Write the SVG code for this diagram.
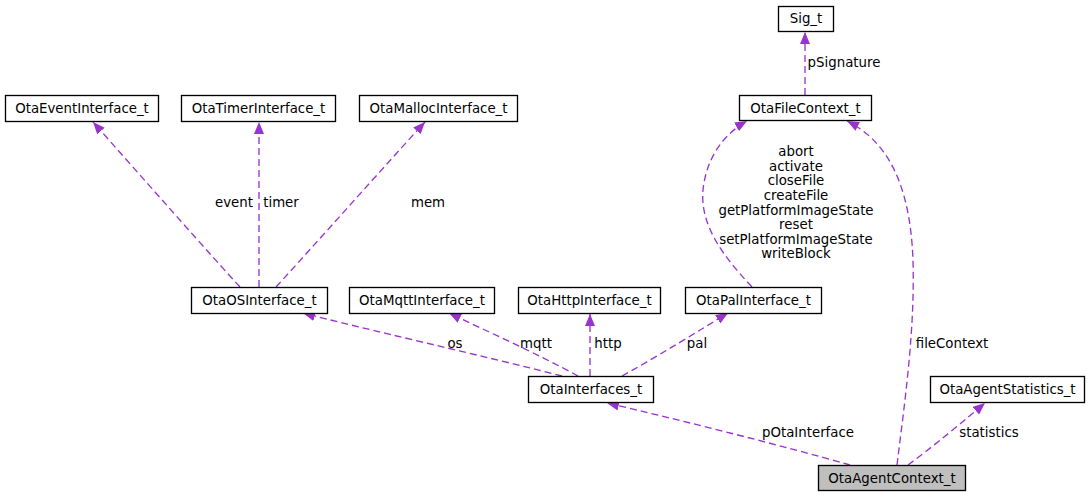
<svg xmlns="http://www.w3.org/2000/svg" width="1089" height="497" viewBox="0 0 1089 497">
<style>
.n rect{fill:#ffffff;stroke:#000000;stroke-width:1.33}
.n text,.l{font-family:"DejaVu Sans",sans-serif;font-size:13.33px;fill:#000000;text-anchor:middle}
.e path{fill:none;stroke:#9a32cd;stroke-width:1.33;stroke-dasharray:7,4}
</style>
<defs>
<marker id="ah" viewBox="0 0 12 10" refX="12" refY="5" markerUnits="userSpaceOnUse" markerWidth="12" markerHeight="10" orient="auto">
<path d="M0,0 L12,5 L0,10 z" fill="#9a32cd" stroke="none"/>
</marker>
</defs>
<g id="connectors" class="e">
<path d="M240,287 C215,260 140,175 93,122" marker-end="url(#ah)"/>
<path d="M259,287 L259,122" marker-end="url(#ah)"/>
<path d="M276,287 C310,250 390,160 425,122" marker-end="url(#ah)"/>
<path d="M562,376 C480,355 360,328 303,313" marker-end="url(#ah)"/>
<path d="M578,376 C540,355 480,328 449,313" marker-end="url(#ah)"/>
<path d="M590,376 L590,314" marker-end="url(#ah)"/>
<path d="M622,376 C660,355 700,330 728,313" marker-end="url(#ah)"/>
<path d="M752,287 C722,255 700,225 703,190 C706,160 722,135 747,121" marker-end="url(#ah)"/>
<path d="M805,95 L805,32" marker-end="url(#ah)"/>
<path d="M897,465 C905,400 915,330 913,260 C910,180 885,140 847,121" marker-end="url(#ah)"/>
<path d="M850,465 C780,445 680,420 607,403" marker-end="url(#ah)"/>
<path d="M908,465 C935,445 965,420 985,403" marker-end="url(#ah)"/>
</g>
<g id="edge-labels">
<text class="l" x="234" y="207">event</text>
<text class="l" x="281" y="207">timer</text>
<text class="l" x="428" y="207">mem</text>
<text class="l" x="844" y="67">pSignature</text>
<text class="l" x="796" y="156">abort</text>
<text class="l" x="796" y="171">activate</text>
<text class="l" x="796" y="185">closeFile</text>
<text class="l" x="796" y="200">createFile</text>
<text class="l" x="796" y="215">getPlatformImageState</text>
<text class="l" x="796" y="229">reset</text>
<text class="l" x="796" y="244">setPlatformImageState</text>
<text class="l" x="796" y="258">writeBlock</text>
<text class="l" x="455" y="348">os</text>
<text class="l" x="536" y="348">mqtt</text>
<text class="l" x="608" y="348">http</text>
<text class="l" x="697" y="348">pal</text>
<text class="l" x="952" y="348">fileContext</text>
<text class="l" x="808" y="437">pOtaInterface</text>
<text class="l" x="989" y="437">statistics</text>
</g>
<g id="OtaEventInterface_t" class="n"><rect x="5.5" y="95.5" width="153" height="26"/><text x="82" y="113">OtaEventInterface_t</text></g>
<g id="OtaTimerInterface_t" class="n"><rect x="181.5" y="95.5" width="154" height="26"/><text x="258.5" y="113">OtaTimerInterface_t</text></g>
<g id="OtaMallocInterface_t" class="n"><rect x="359.5" y="95.5" width="158" height="26"/><text x="438.5" y="113">OtaMallocInterface_t</text></g>
<g id="Sig_t" class="n"><rect x="778.5" y="6.5" width="55" height="25"/><text x="806" y="23">Sig_t</text></g>
<g id="OtaFileContext_t" class="n"><rect x="739.5" y="95.5" width="132" height="25"/><text x="805.5" y="113">OtaFileContext_t</text></g>
<g id="OtaOSInterface_t" class="n"><rect x="191.5" y="287.5" width="136" height="26"/><text x="259.5" y="305">OtaOSInterface_t</text></g>
<g id="OtaMqttInterface_t" class="n"><rect x="349.5" y="287.5" width="145" height="26"/><text x="422" y="305">OtaMqttInterface_t</text></g>
<g id="OtaHttpInterface_t" class="n"><rect x="518.5" y="287.5" width="142" height="26"/><text x="589.5" y="305">OtaHttpInterface_t</text></g>
<g id="OtaPalInterface_t" class="n"><rect x="685.5" y="287.5" width="136" height="26"/><text x="753.5" y="305">OtaPalInterface_t</text></g>
<g id="OtaInterfaces_t" class="n"><rect x="528.5" y="376.5" width="125" height="26"/><text x="591" y="394">OtaInterfaces_t</text></g>
<g id="OtaAgentStatistics_t" class="n"><rect x="930.5" y="376.5" width="154" height="26"/><text x="1007.5" y="394">OtaAgentStatistics_t</text></g>
<g id="OtaAgentContext_t" class="n"><rect x="818.5" y="465.5" width="147" height="25" style="fill:#bfbfbf"/><text x="892" y="483">OtaAgentContext_t</text></g>
</svg>
